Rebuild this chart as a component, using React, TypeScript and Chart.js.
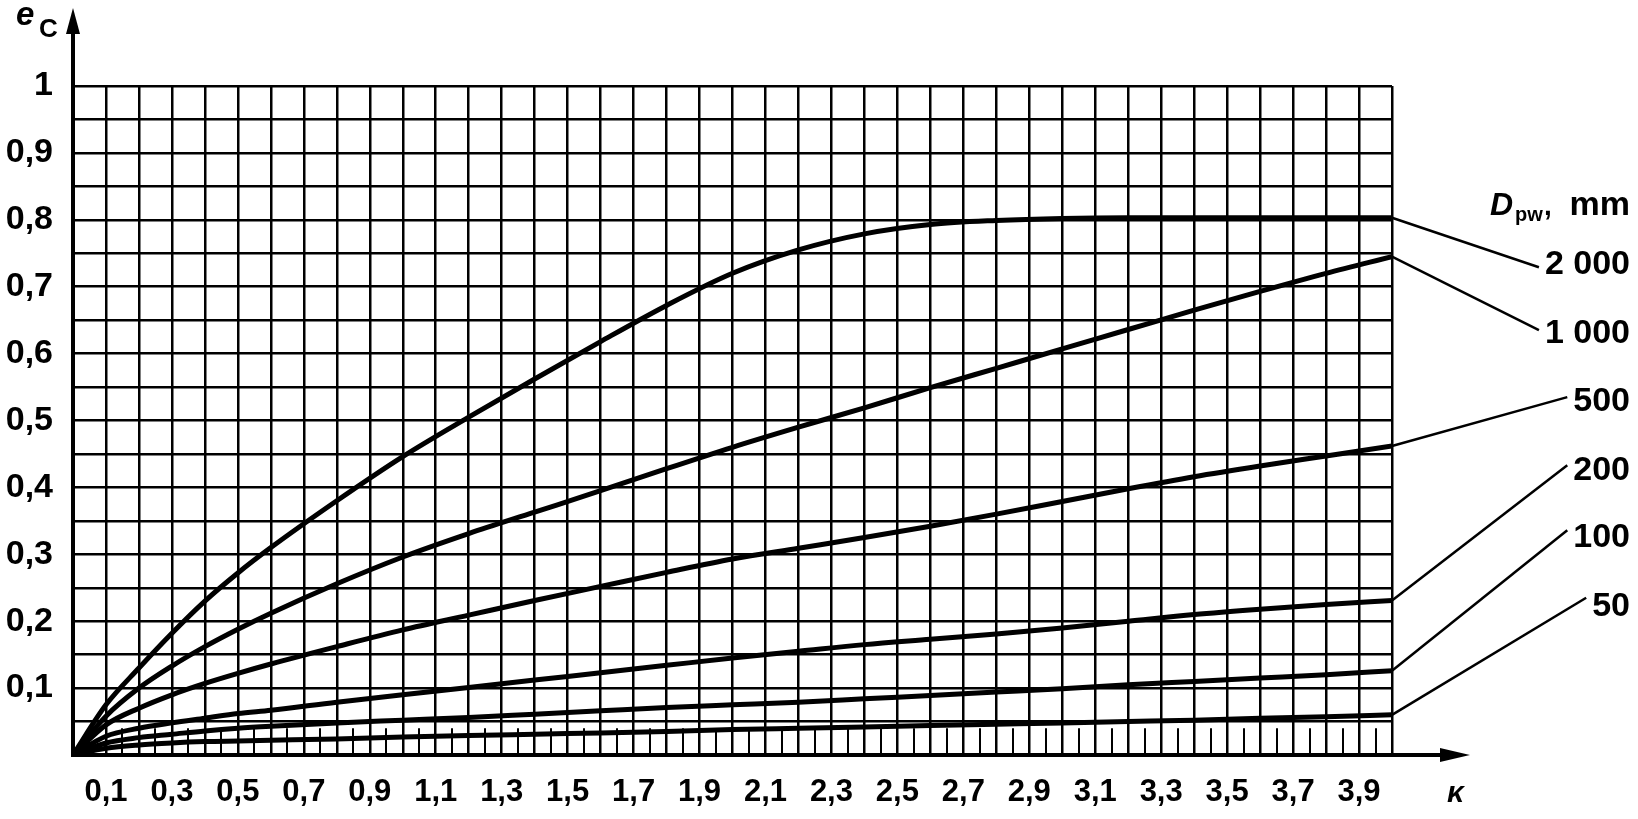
import React, { useEffect, useRef } from "react";
import { Chart, registerables } from "chart.js";

Chart.register(...registerables);

// κ values (x)
const KAPPA = [0, 0.1, 0.2, 0.3, 0.4, 0.5, 0.6, 0.8, 1.0, 1.2, 1.4, 1.6, 1.8, 2.0, 2.2, 2.4, 2.6, 2.8, 3.0, 3.2, 3.4, 3.6, 3.8, 4.0];

// e_C values for each D_pw curve
const E_2000 = [0, 0.075, 0.13, 0.182, 0.23, 0.272, 0.31, 0.38, 0.446, 0.505, 0.562, 0.618, 0.672, 0.72, 0.755, 0.779, 0.793, 0.799, 0.802, 0.803, 0.803, 0.803, 0.803, 0.803];
const E_1000 = [0, 0.058, 0.1, 0.133, 0.162, 0.188, 0.212, 0.256, 0.296, 0.331, 0.363, 0.395, 0.428, 0.46, 0.49, 0.519, 0.549, 0.578, 0.607, 0.636, 0.665, 0.693, 0.72, 0.745];
const E_500 = [0, 0.045, 0.07, 0.09, 0.107, 0.122, 0.136, 0.162, 0.187, 0.209, 0.231, 0.252, 0.273, 0.293, 0.309, 0.325, 0.342, 0.36, 0.379, 0.398, 0.416, 0.432, 0.447, 0.462];
const E_200 = [0, 0.028, 0.04, 0.048, 0.055, 0.062, 0.067, 0.079, 0.09, 0.101, 0.112, 0.123, 0.134, 0.145, 0.155, 0.165, 0.173, 0.181, 0.19, 0.2, 0.21, 0.218, 0.225, 0.231];
const E_100 = [0, 0.018, 0.026, 0.031, 0.036, 0.04, 0.043, 0.048, 0.052, 0.056, 0.061, 0.066, 0.071, 0.075, 0.079, 0.084, 0.089, 0.094, 0.099, 0.105, 0.11, 0.115, 0.12, 0.126];
const E_50 = [0, 0.01, 0.015, 0.018, 0.02, 0.021, 0.022, 0.024, 0.027, 0.029, 0.031, 0.033, 0.035, 0.038, 0.04, 0.042, 0.044, 0.046, 0.048, 0.05, 0.052, 0.055, 0.057, 0.06];

const SERIES = [E_2000, E_1000, E_500, E_200, E_100, E_50];
const SERIES_LABELS = ["2 000", "1 000", "500", "200", "100", "50"];
// label centre and leader-line end, in e_C units
const LABEL_E = [0.735, 0.631, 0.529, 0.426, 0.326, 0.224];
const LEADER_E = [0.729, 0.635, 0.535, 0.433, 0.336, 0.235];

const FONT = '"Liberation Sans", Arial, sans-serif';

function fmtY(v: number): string {
  const n = Math.round(v * 100);
  if (n <= 0 || n % 10 !== 0) return "";
  if (n === 100) return "1";
  return "0," + n / 10;
}
function fmtX(v: number): string {
  const n = Math.round(v * 10);
  if (n % 2 !== 1) return "";
  return Math.floor(n / 10) + "," + (n % 10);
}

const overlay = {
  id: "overlay",
  afterDraw(chart: any) {
    const { ctx, chartArea, scales } = chart;
    const xs = scales.x;
    const ys = scales.y;
    const x0 = xs.getPixelForValue(0);
    const y0 = ys.getPixelForValue(0);
    ctx.save();
    ctx.strokeStyle = "#000";
    ctx.fillStyle = "#000";

    // half-step ticks in the bottom row
    ctx.lineWidth = 2;
    const yTop = ys.getPixelForValue(0.04);
    for (let i = 0; i < 40; i++) {
      const px = Math.round(xs.getPixelForValue(i * 0.1 + 0.05));
      ctx.beginPath();
      ctx.moveTo(px, y0);
      ctx.lineTo(px, yTop);
      ctx.stroke();
    }

    // axes
    ctx.lineWidth = 4;
    const yTip = chartArea.top - 78;
    ctx.beginPath();
    ctx.moveTo(x0, y0 + 2);
    ctx.lineTo(x0, yTip + 15);
    ctx.stroke();
    ctx.beginPath();
    ctx.moveTo(x0, yTip);
    ctx.lineTo(x0 - 7, yTip + 26);
    ctx.lineTo(x0 + 7, yTip + 26);
    ctx.closePath();
    ctx.fill();

    const xTip = chartArea.right + 78;
    ctx.beginPath();
    ctx.moveTo(x0 - 2, y0);
    ctx.lineTo(xTip - 15, y0);
    ctx.stroke();
    ctx.beginPath();
    ctx.moveTo(xTip, y0);
    ctx.lineTo(xTip - 30, y0 - 7);
    ctx.lineTo(xTip - 30, y0 + 7);
    ctx.closePath();
    ctx.fill();

    // axis titles
    ctx.textAlign = "left";
    ctx.textBaseline = "alphabetic";
    ctx.font = `italic bold 33px ${FONT}`;
    ctx.fillText("e", x0 - 57, yTip + 17);
    ctx.font = `bold 26px ${FONT}`;
    ctx.fillText("C", x0 - 34, yTip + 29);
    ctx.font = `italic bold 30px ${FONT}`;
    ctx.fillText("κ", chartArea.right + 55, y0 + 47);

    // header D_pw, mm
    const hx = chartArea.right + 98;
    const hy = chartArea.top + 129;
    ctx.font = `italic bold 32px ${FONT}`;
    ctx.fillText("D", hx, hy);
    let cx = hx + ctx.measureText("D").width + 2;
    ctx.font = `bold 20px ${FONT}`;
    ctx.fillText("pw", cx, hy + 6);
    cx += ctx.measureText("pw").width + 1;
    ctx.font = `bold 28px ${FONT}`;
    ctx.fillText(",", cx, hy);
    ctx.textAlign = "right";
    ctx.font = `bold 34px ${FONT}`;
    ctx.fillText("mm", chartArea.right + 238, hy);

    // curve labels with leader lines
    const textRight = chartArea.right + 238;
    ctx.font = `bold 34px ${FONT}`;
    ctx.lineWidth = 2.5;
    for (let i = 0; i < SERIES.length; i++) {
      const data = SERIES[i];
      const sx = xs.getPixelForValue(KAPPA[KAPPA.length - 1]);
      const sy = ys.getPixelForValue(data[data.length - 1]);
      const w = ctx.measureText(SERIES_LABELS[i]).width;
      const ex = textRight - w - 6;
      const ey = ys.getPixelForValue(LEADER_E[i]);
      ctx.beginPath();
      ctx.moveTo(sx, sy);
      ctx.lineTo(ex, ey);
      ctx.stroke();
      ctx.textAlign = "right";
      ctx.textBaseline = "middle";
      ctx.fillText(SERIES_LABELS[i], textRight, ys.getPixelForValue(LABEL_E[i]) + 1);
    }
    ctx.restore();
  },
};

export default function App() {
  const ref = useRef<HTMLCanvasElement | null>(null);
  useEffect(() => {
    if (!ref.current) return;
    const chart = new Chart(ref.current, {
      type: "line",
      data: {
        datasets: SERIES.map((s, i) => ({
          label: SERIES_LABELS[i],
          data: KAPPA.map((k, j) => ({ x: k, y: s[j] })),
          borderColor: "#000",
          borderWidth: 5,
          pointRadius: 0,
          fill: false,
          cubicInterpolationMode: "monotone" as const,
        })),
      },
      options: {
        responsive: false,
        animation: false,
        layout: { padding: { left: 0, right: 246, top: 86, bottom: 0 } },
        plugins: { legend: { display: false }, tooltip: { enabled: false } },
        scales: {
          x: {
            type: "linear",
            min: 0,
            max: 4,
            afterFit: (s: any) => {
              s.height = 64;
            },
            ticks: {
              stepSize: 0.1,
              maxTicksLimit: 100,
              autoSkip: false,
              maxRotation: 0,
              padding: 19,
              color: "#000",
              font: { family: FONT, size: 31, weight: "bold" },
              callback: (v: any) => fmtX(Number(v)),
            },
            grid: { color: "#000", lineWidth: 2.5, drawTicks: false },
            border: { display: false },
          },
          y: {
            type: "linear",
            min: 0,
            max: 1,
            afterFit: (s: any) => {
              s.width = 73;
            },
            ticks: {
              stepSize: 0.05,
              maxTicksLimit: 100,
              autoSkip: false,
              padding: 20,
              color: "#000",
              font: { family: FONT, size: 34, weight: "bold" },
              callback: (v: any) => fmtY(Number(v)),
            },
            grid: { color: "#000", lineWidth: 2.5, drawTicks: false },
            border: { display: false },
          },
        },
      },
      plugins: [overlay],
    });
    return () => chart.destroy();
  }, []);
  return (
    <div style={{ position: "fixed", left: 0, top: 0, width: 1638, height: 819, background: "#fff" }}>
      <canvas ref={ref} width={1638} height={819} style={{ display: "block" }} />
    </div>
  );
}
